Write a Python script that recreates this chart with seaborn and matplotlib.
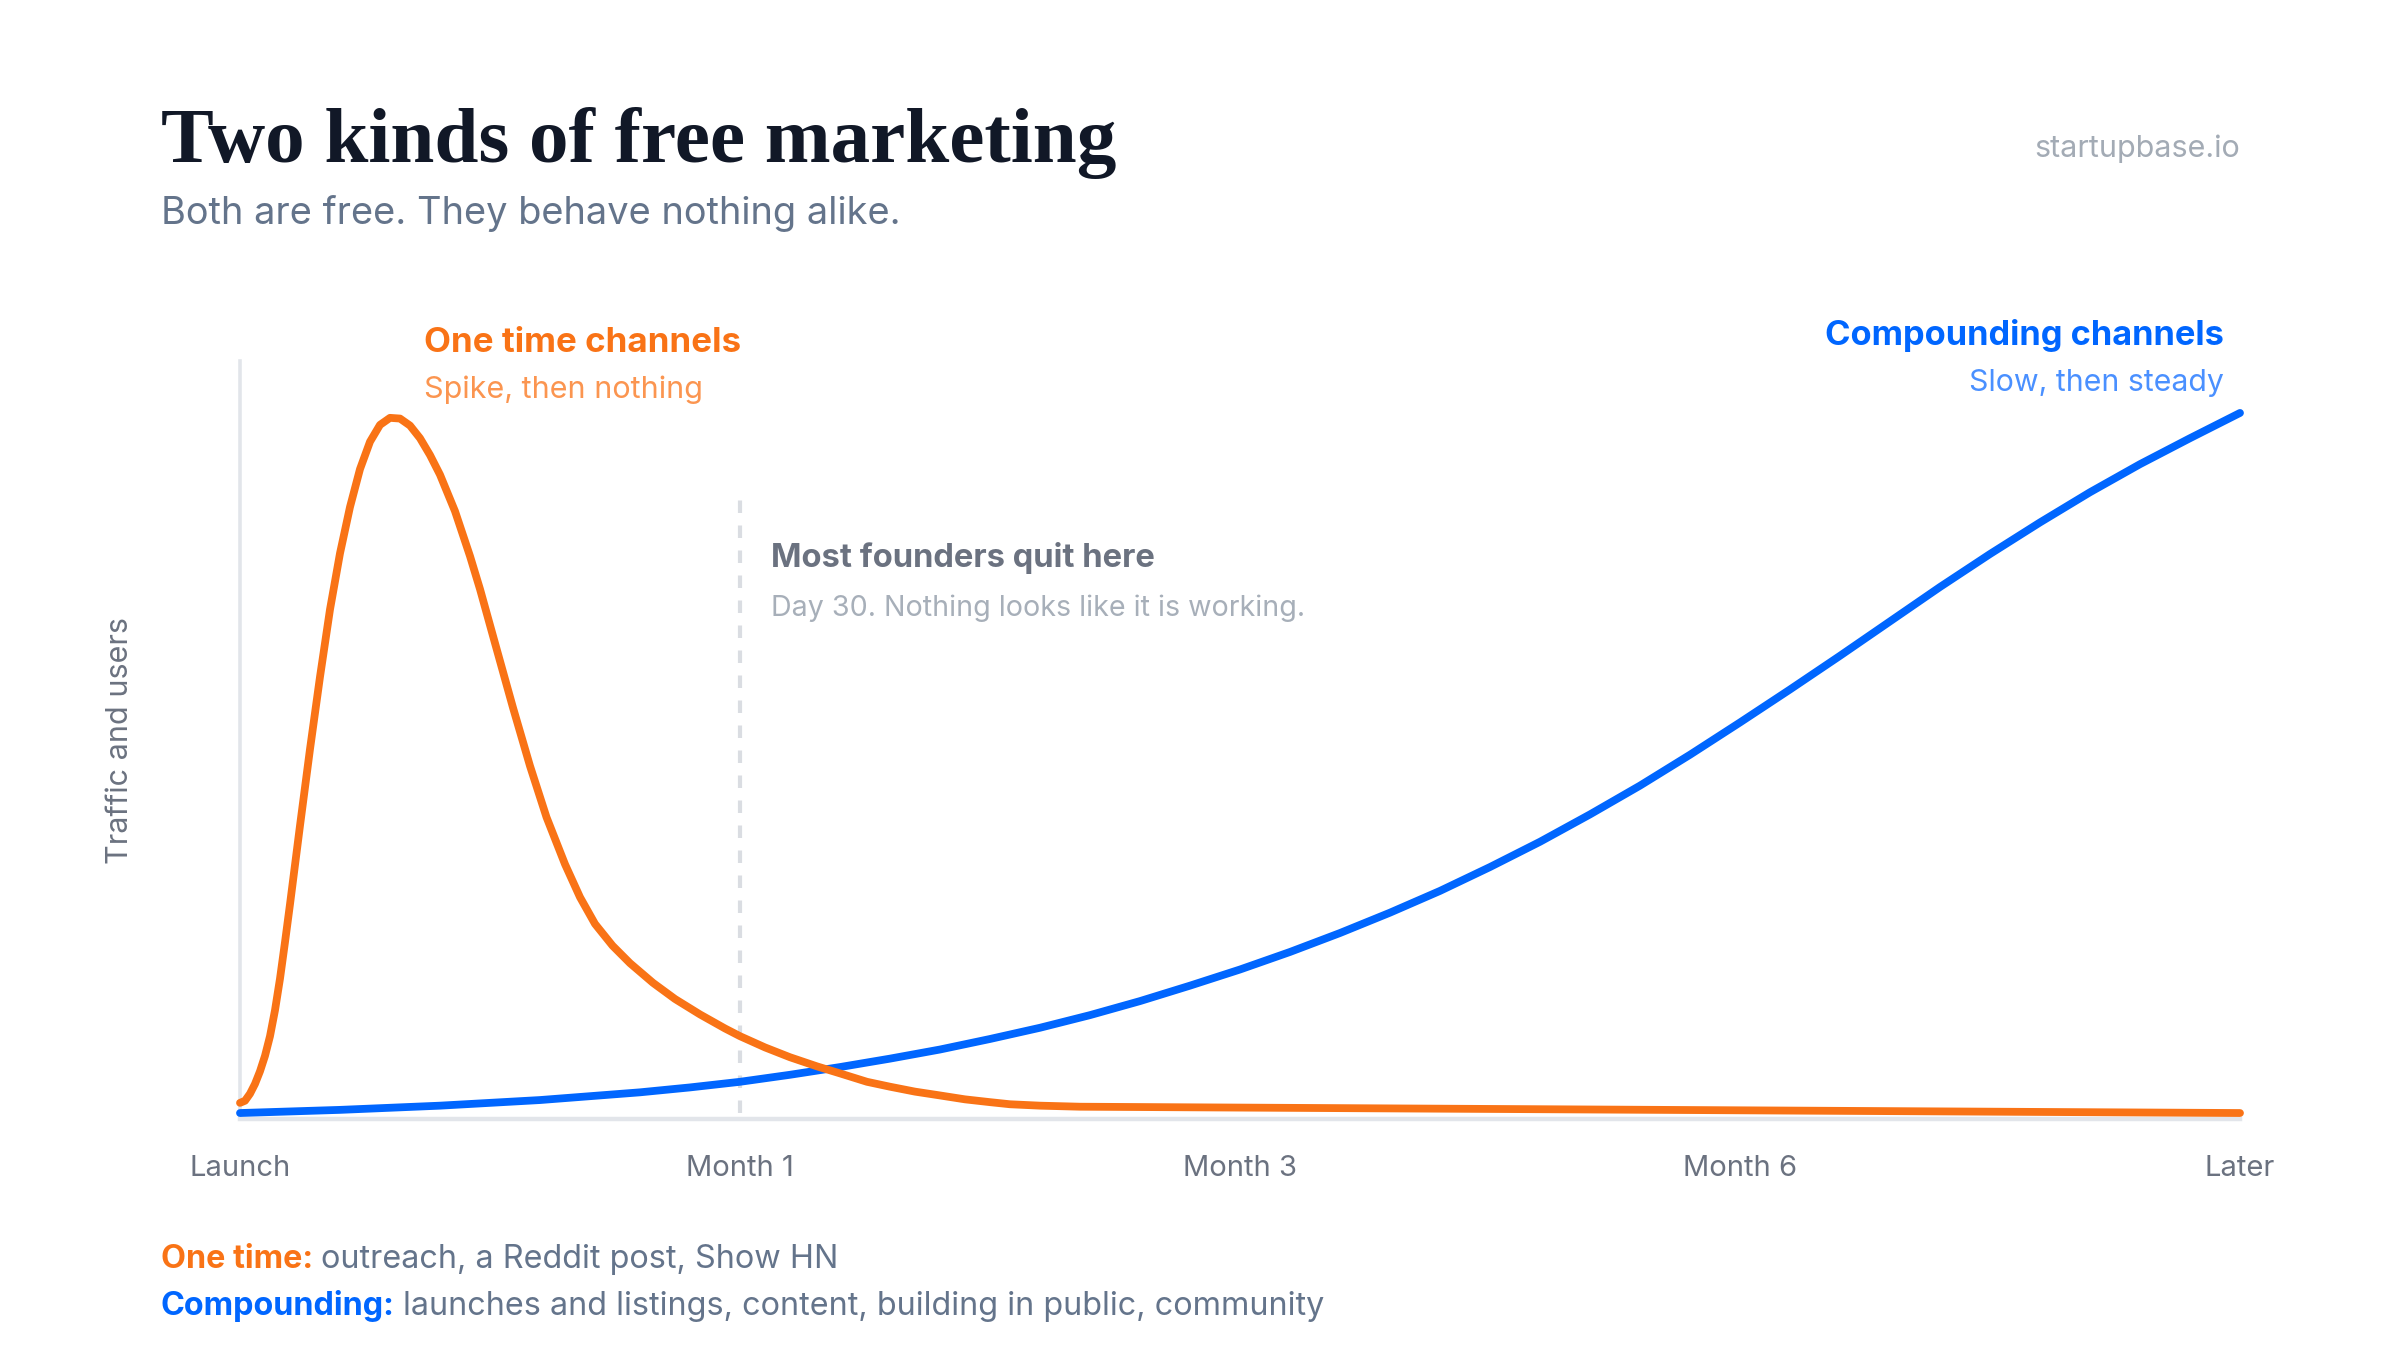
import numpy as np
import pandas as pd
import matplotlib
matplotlib.use("Agg")
import matplotlib.pyplot as plt
import seaborn as sns

# data (x: 0=Launch, 1=Month 1, 2=Month 3, 3=Month 6, 4=Later)
tick_labels = ["Launch", "Month 1", "Month 3", "Month 6", "Later"]

one_time_x = [0.00, 0.01, 0.02, 0.03, 0.04, 0.05, 0.06, 0.07, 0.08, 0.09, 0.10, 0.12,
              0.14, 0.16, 0.18, 0.20, 0.22, 0.24, 0.26, 0.28, 0.30, 0.32, 0.34, 0.36,
              0.38, 0.40, 0.43, 0.46, 0.48, 0.51, 0.546, 0.58, 0.613, 0.65, 0.68,
              0.71, 0.745, 0.78, 0.826, 0.87, 0.92, 0.97, 1.0, 1.05, 1.1, 1.154,
              1.2, 1.254, 1.3, 1.35, 1.396, 1.45, 1.5, 1.54, 1.6, 1.68, 4.0]
one_time_y = [2.3, 2.6, 3.6, 5.0, 6.8, 9.0, 11.8, 15.5, 20.0, 25.2, 30.6, 41.8,
              52.7, 63.0, 72.6, 80.6, 87.2, 92.6, 96.5, 98.9, 99.9, 99.8, 98.8, 97.0,
              94.6, 91.8, 86.6, 80.2, 75.5, 67.8, 58.6, 50.3, 43.0, 36.3, 31.6,
              27.8, 24.7, 22.2, 19.4, 17.1, 14.9, 12.9, 11.8, 10.2, 8.8, 7.5,
              6.5, 5.3, 4.6, 3.9, 3.4, 2.8, 2.4, 2.1, 1.9, 1.75, 0.85]

compound_x = [0.0, 0.2, 0.4, 0.6, 0.8, 0.9, 1.0, 1.1, 1.2, 1.3, 1.4, 1.5, 1.6, 1.7,
              1.8, 1.9, 2.0, 2.1, 2.2, 2.3, 2.4, 2.5, 2.6, 2.7, 2.8, 2.9, 3.0, 3.1,
              3.2, 3.3, 3.4, 3.5, 3.6, 3.7, 3.8, 3.9, 4.0]
compound_y = [0.85, 1.3, 1.9, 2.7, 3.8, 4.5, 5.3, 6.3, 7.4, 8.6, 9.9, 11.4, 13.0, 14.8,
              16.8, 19.0, 21.3, 23.8, 26.5, 29.4, 32.5, 35.9, 39.5, 43.4, 47.5, 51.9,
              56.5, 61.2, 66.0, 70.9, 75.8, 80.5, 85.0, 89.3, 93.3, 97.0, 100.6]

quit_x = 1.0
quit_top = 88.3

ORANGE = "#F97316"
ORANGE_LIGHT = "#FB9550"
BLUE = "#0066FF"
BLUE_LIGHT = "#4A90FF"
GRID = "#E2E5EA"

sns.set_theme(style="white")
plt.rcParams["font.family"] = ["Inter", "DejaVu Sans"]

fig = plt.figure(figsize=(12, 6.75), dpi=200)
fig.patch.set_facecolor("white")
ax = fig.add_axes([0.1, 1 - 1119 / 1350, 2000 / 2400, 758 / 1350])

# founders-quit marker
ax.plot([quit_x, quit_x], [0.8, quit_top], color="#DADDE2", lw=1.5,
        dashes=(3, 3), zorder=1)

df_one = pd.DataFrame({"x": one_time_x, "y": one_time_y})
df_comp = pd.DataFrame({"x": compound_x, "y": compound_y})
sns.lineplot(data=df_comp, x="x", y="y", ax=ax, color=BLUE, lw=2.8,
             solid_capstyle="round", solid_joinstyle="round", clip_on=False, zorder=3)
sns.lineplot(data=df_one, x="x", y="y", ax=ax, color=ORANGE, lw=2.8,
             solid_capstyle="round", solid_joinstyle="round", clip_on=False, zorder=4)

ax.set_xlim(0, 4)
ax.set_ylim(0, 108)
ax.set_xticks(range(len(tick_labels)))
ax.set_xticklabels(tick_labels, fontsize=10.5, color="#6B7280")
ax.tick_params(axis="x", length=0, pad=13)
ax.set_yticks([])
ax.set_xlabel("")
ax.set_ylabel("Traffic and users", fontsize=11, color="#6B7280", labelpad=38)
for side in ["top", "right"]:
    ax.spines[side].set_visible(False)
ax.spines["left"].set_color(GRID)
ax.spines["left"].set_linewidth(1.3)
ax.spines["bottom"].set_color(GRID)
ax.spines["bottom"].set_linewidth(1.6)
ax.set_facecolor("white")

# title block
fig.text(161 / 2400, 1 - 143 / 1350, "Two kinds of free marketing",
         family="Liberation Serif", weight="bold", fontsize=28.5, color="#111827",
         va="center", ha="left")
fig.text(161 / 2400, 1 - 214 / 1350, "Both are free. They behave nothing alike.",
         fontsize=13.7, color="#64748B", va="center", ha="left")
fig.text(2240 / 2400, 1 - 149 / 1350, "startupbase.io", fontsize=11,
         color="#A3ABB5", va="center", ha="right")

# series labels
fig.text(424 / 2400, 1 - 343 / 1350, "One time channels", fontsize=12.6,
         weight="bold", color=ORANGE, va="center", ha="left")
fig.text(424 / 2400, 1 - 390 / 1350, "Spike, then nothing", fontsize=11,
         color=ORANGE_LIGHT, va="center", ha="left")
fig.text(2224 / 2400, 1 - 335 / 1350, "Compounding channels", fontsize=12.4,
         weight="bold", color=BLUE, va="center", ha="right")
fig.text(2224 / 2400, 1 - 383 / 1350, "Slow, then steady", fontsize=10.9,
         color=BLUE_LIGHT, va="center", ha="right")

# annotation next to the dashed line
fig.text(771 / 2400, 1 - 558 / 1350, "Most founders quit here", fontsize=11.8,
         weight="bold", color="#6B7280", va="center", ha="left")
fig.text(771 / 2400, 1 - 608 / 1350, "Day 30. Nothing looks like it is working.",
         fontsize=10.3, color="#A7AFB9", va="center", ha="left")

# footer
t1 = fig.text(161 / 2400, 1 - 1275 / 1350, "One time:", fontsize=11.65,
              weight="bold", color=ORANGE, va="bottom", ha="left")
ax.annotate("outreach, a Reddit post, Show HN", xy=(1, 0), xycoords=t1,
            xytext=(3, 0), textcoords="offset points", fontsize=11.65,
            color="#64748B", va="bottom", ha="left", annotation_clip=False)
t2 = fig.text(161 / 2400, 1 - 1322 / 1350, "Compounding:", fontsize=11.65,
              weight="bold", color=BLUE, va="bottom", ha="left")
ax.annotate("launches and listings, content, building in public, community",
            xy=(1, 0), xycoords=t2, xytext=(3, 0), textcoords="offset points",
            fontsize=11.65, color="#64748B", va="bottom", ha="left",
            annotation_clip=False)

fig.savefig("out.png", dpi=200, facecolor="white")
